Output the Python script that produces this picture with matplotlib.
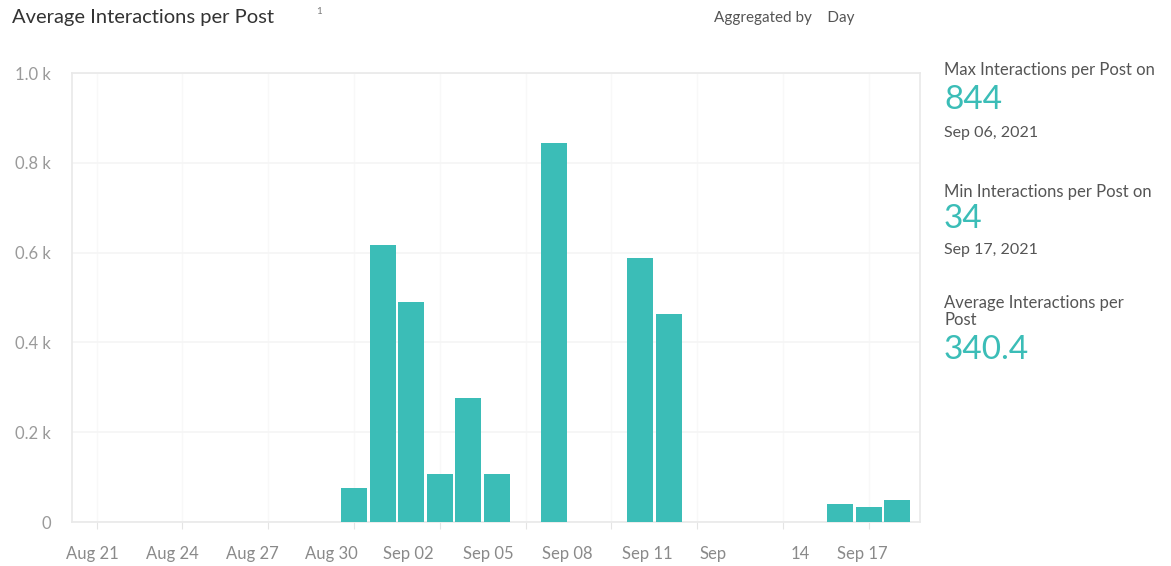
"""Average interactions per post, aggregated by day."""

import matplotlib

matplotlib.use("Agg")
import matplotlib.pyplot as plt
import matplotlib.dates as mdates
import pandas as pd


dates = [
    "2021-08-30", "2021-08-31", "2021-09-01", "2021-09-02", "2021-09-03", "2021-09-04",
    "2021-09-06", "2021-09-09", "2021-09-10", "2021-09-16", "2021-09-17", "2021-09-18",
]
values = [75, 618, 489, 106, 277, 106, 844, 587, 464, 41, 34, 48]

tick_labels = ["Aug 21", "Aug 24", "Aug 27", "Aug 30", "Sep 02", "Sep 05",
               "Sep 08", "Sep 11", "Sep", "14", "Sep 17"]
y_ticks = [0, 200, 400, 600, 800, 1000]
y_labels = ["0", "0.2 k", "0.4 k", "0.6 k", "0.8 k", "1.0 k"]

max_value, max_date = "844", "Sep 06, 2021"
min_value, min_date = "34", "Sep 17, 2021"
avg_value = "340.4"

TEAL = "#3bbdb7"
FRAME = "#e9e9e9"
GRID = "#f5f5f5"

plt.rcParams.update({"font.family": ["Lato", "DejaVu Sans"]})

start = mdates.date2num(pd.Timestamp("2021-08-21"))
x = mdates.date2num(pd.to_datetime(dates))

# the label row in the screenshot drifts a little from the day ticks
label_days = [-0.16, 2.64, 5.43, 8.2, 10.89, 13.69, 16.45, 19.25, 21.55, 24.6, 26.76]

fig = plt.figure(figsize=(11.71, 5.66), dpi=100)
ax = fig.add_axes([0.0615, 0.0777, 0.7242, 0.7933])

ax.bar(x, values, width=0.91, color=TEAL, zorder=3)

ax.set_xlim(start - 0.86, start + 28.79)
ax.set_ylim(0, 1000)

ax.set_yticks(y_ticks, y_labels)
ax.set_xticks([start + d for d in label_days], tick_labels)
ax.set_xticks([start + d for d in range(0, 28, 3)], minor=True)

ax.tick_params(axis="y", length=0, pad=15, labelsize=12, labelcolor="#9a9a9a")
ax.tick_params(axis="x", which="major", length=0, pad=17, labelsize=12, labelcolor="#8a8a8a")
ax.tick_params(axis="x", which="minor", length=5, width=0.8, color="#e4e4e4")

ax.grid(axis="y", color=GRID, linewidth=1.2, zorder=0)
ax.grid(axis="x", which="minor", color="#f8f8f8", linewidth=1.0, zorder=0)
for spine in ax.spines.values():
    spine.set_color(FRAME)
    spine.set_linewidth(1.2)

fig.text(12 / 1171, 1 - 18 / 566, "Average Interactions per Post", fontsize=14.5,
         color="#333333", va="center")
fig.text(316 / 1171, 1 - 11 / 566, "1", fontsize=7, color="#777777", va="center")
fig.text(714 / 1171, 1 - 18 / 566, "Aggregated by    Day", fontsize=11,
         color="#555555", va="center")

px = 944 / 1171
side = [
    (70, "Max Interactions per Post on", 12, "#555555"),
    (100, max_value, 24, TEAL),
    (133, max_date, 11.5, "#555555"),
    (192, "Min Interactions per Post on", 12, "#555555"),
    (219, min_value, 24, TEAL),
    (250, min_date, 11.5, "#555555"),
    (303, "Average Interactions per", 12, "#555555"),
    (320, "Post", 12, "#555555"),
    (350, avg_value, 24, TEAL),
]
for ypix, text, size, color in side:
    fig.text(px, 1 - ypix / 566, text, fontsize=size, color=color, va="center")

fig.savefig("out.png", dpi=100, facecolor="white")
